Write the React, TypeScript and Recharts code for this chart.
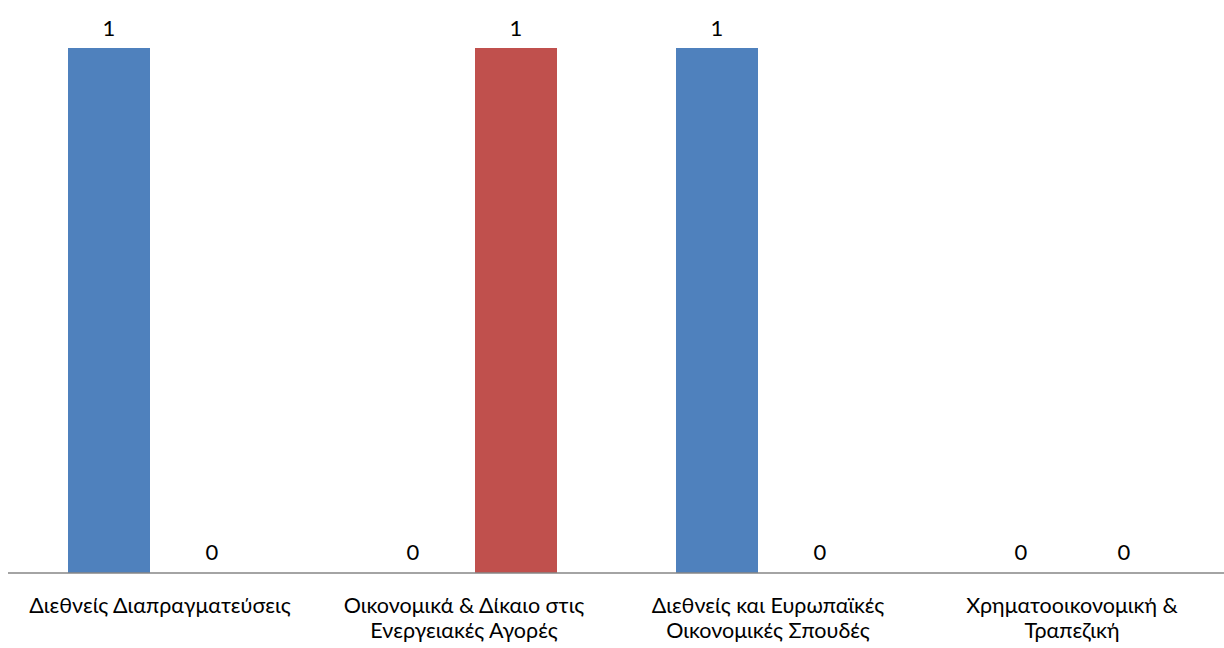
import React from "react";
import { BarChart, Bar, XAxis, YAxis, LabelList, Cell } from "recharts";

// category labels, already broken into lines as in the picture
const categories = [
  ["Διεθνείς Διαπραγματεύσεις"],
  ["Οικονομικά & Δίκαιο στις", "Ενεργειακές Αγορές"],
  ["Διεθνείς και Ευρωπαϊκές", "Οικονομικές Σπουδές"],
  ["Χρηματοοικονομική &", "Τραπεζική"],
];

const seriesA = [1, 0, 1, 0];
const seriesB = [0, 1, 0, 0];

const data = categories.map((lines, i) => ({
  name: lines.join(" "),
  a: seriesA[i],
  b: seriesB[i],
}));

const FONT = "Lato, 'Open Sans', sans-serif";
const FS = 22;
const TICK_FS = 21.5;

const CategoryTick = (props: any) => {
  const { x, y, payload, index } = props;
  const lines: string[] = categories[index] ?? [payload.value];
  return (
    <g transform={`translate(${x},${y})`}>
      {lines.map((ln, i) => (
        <text
          key={i}
          x={0}
          y={32 + i * 25}
          textAnchor="middle"
          fill="#000"
          fontSize={TICK_FS}
          fontFamily={FONT}
        >
          {ln}
        </text>
      ))}
    </g>
  );
};

const App: React.FC = () => {
  return (
    <div style={{ position: "absolute", left: 0, top: 0, background: "#fff" }}>
      <BarChart
        width={1224}
        height={648}
        data={data}
        margin={{ top: 48, right: 0, bottom: 0, left: 8 }}
        barSize={82}
        barGap={21}
      >
        <XAxis
          dataKey="name"
          tick={<CategoryTick />}
          tickLine={false}
          axisLine={{ stroke: "#868686", strokeWidth: 1.5 }}
          height={75}
          interval={0}
        />
        <YAxis hide domain={[0, 1]} />
        {/* zero bars get a 1px invisible sliver so their "0" label is drawn */}
        <Bar dataKey="a" fill="#4F81BD" minPointSize={1} isAnimationActive={false}>
          {seriesA.map((v, i) => (
            <Cell key={i} fill={v ? "#4F81BD" : "transparent"} />
          ))}
          <LabelList
            dataKey="a"
            position="top"
            offset={12}
            fill="#000"
            fontSize={FS}
            fontFamily={FONT}
          />
        </Bar>
        <Bar dataKey="b" fill="#C0504D" minPointSize={1} isAnimationActive={false}>
          {seriesB.map((v, i) => (
            <Cell key={i} fill={v ? "#C0504D" : "transparent"} />
          ))}
          <LabelList
            dataKey="b"
            position="top"
            offset={12}
            fill="#000"
            fontSize={FS}
            fontFamily={FONT}
          />
        </Bar>
      </BarChart>
    </div>
  );
};

export default App;
